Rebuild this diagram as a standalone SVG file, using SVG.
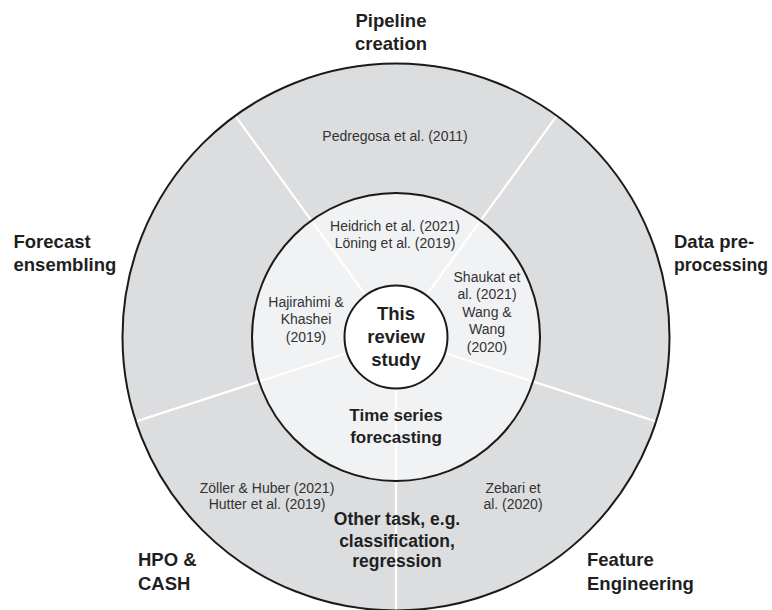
<svg xmlns="http://www.w3.org/2000/svg" width="772" height="610" viewBox="0 0 772 610">
  <style>
    .bg { fill: #ffffff; }
    .outer { fill: #dcdddf; }
    .middle { fill: #f1f2f3; }
    .inner { fill: #ffffff; }
    .ring { fill: none; stroke: #1a1a1a; stroke-width: 2; }
    .div { stroke: #ffffff; stroke-width: 2.2; fill: none; }
    .lbl { font-family: "Liberation Sans", Arial, sans-serif; font-weight: bold; font-size: 18.5px; fill: #1f1f1f; }
    .mid { font-family: "Liberation Sans", Arial, sans-serif; font-weight: bold; font-size: 17px; fill: #1f1f1f; text-anchor: middle; }
    .cite { font-family: "Liberation Sans", Arial, sans-serif; font-size: 14px; fill: #333333; text-anchor: middle; }
  </style>
  <rect class="bg" x="0" y="0" width="772" height="610"/>

  <g id="rings-fill">
    <circle class="outer" cx="396" cy="337" r="273.5"/>
    <circle class="middle" cx="396" cy="337" r="144"/>
  </g>

  <g id="connectors">
    <line class="div" x1="443.55" y1="352.45" x2="656.59" y2="421.67"/>
    <line class="div" x1="396" y1="387" x2="396" y2="611"/>
    <line class="div" x1="348.45" y1="352.45" x2="135.41" y2="421.67"/>
    <line class="div" x1="366.61" y1="296.55" x2="234.95" y2="115.33"/>
    <line class="div" x1="425.39" y1="296.55" x2="557.05" y2="115.33"/>
  </g>

  <g id="rings-stroke">
    <circle class="ring" cx="396" cy="337" r="273.5"/>
    <circle class="ring" cx="396" cy="337" r="144"/>
  </g>

  <g id="center-node">
    <circle class="inner" cx="396" cy="337" r="51.5"/>
    <circle class="ring" cx="396" cy="337" r="51.5"/>
    <text class="lbl" text-anchor="middle" x="396" y="320">This</text>
    <text class="lbl" text-anchor="middle" x="396" y="343">review</text>
    <text class="lbl" text-anchor="middle" x="396" y="366">study</text>
  </g>

  <g id="time-series">
    <text class="mid" x="396" y="421">Time series</text>
    <text class="mid" x="396" y="443">forecasting</text>
  </g>

  <g id="other-task">
    <text class="mid" x="397" y="525" style="font-size:17.5px">Other task, e.g.</text>
    <text class="mid" x="397" y="547" style="font-size:17.5px">classification,</text>
    <text class="mid" x="397" y="567" style="font-size:17.5px">regression</text>
  </g>

  <g id="pipeline-creation">
    <text class="lbl" text-anchor="middle" x="391" y="27">Pipeline</text>
    <text class="lbl" text-anchor="middle" x="391" y="50">creation</text>
    <text class="cite" x="395" y="141">Pedregosa et al. (2011)</text>
    <text class="cite" x="395" y="231">Heidrich et al. (2021)</text>
    <text class="cite" x="395" y="248">Löning et al. (2019)</text>
  </g>

  <g id="data-preprocessing">
    <text class="lbl" x="674" y="248">Data pre-</text>
    <text class="lbl" x="674" y="271" textLength="94" lengthAdjust="spacingAndGlyphs">processing</text>
    <text class="cite" x="487" y="282">Shaukat et</text>
    <text class="cite" x="487" y="299">al. (2021)</text>
    <text class="cite" x="487" y="317">Wang &amp;</text>
    <text class="cite" x="487" y="334">Wang</text>
    <text class="cite" x="487" y="352">(2020)</text>
  </g>

  <g id="feature-engineering">
    <text class="lbl" x="587" y="566">Feature</text>
    <text class="lbl" x="587" y="590">Engineering</text>
    <text class="cite" x="513" y="493">Zebari et</text>
    <text class="cite" x="513" y="509">al. (2020)</text>
  </g>

  <g id="hpo-cash">
    <text class="lbl" x="138" y="566">HPO &amp;</text>
    <text class="lbl" x="138" y="590">CASH</text>
    <text class="cite" x="267" y="493">Zöller &amp; Huber (2021)</text>
    <text class="cite" x="267" y="509">Hutter et al. (2019)</text>
  </g>

  <g id="forecast-ensembling">
    <text class="lbl" x="13.5" y="248">Forecast</text>
    <text class="lbl" x="13.5" y="271">ensembling</text>
    <text class="cite" x="306" y="307">Hajirahimi &amp;</text>
    <text class="cite" x="306" y="324">Khashei</text>
    <text class="cite" x="306" y="342">(2019)</text>
  </g>
</svg>
